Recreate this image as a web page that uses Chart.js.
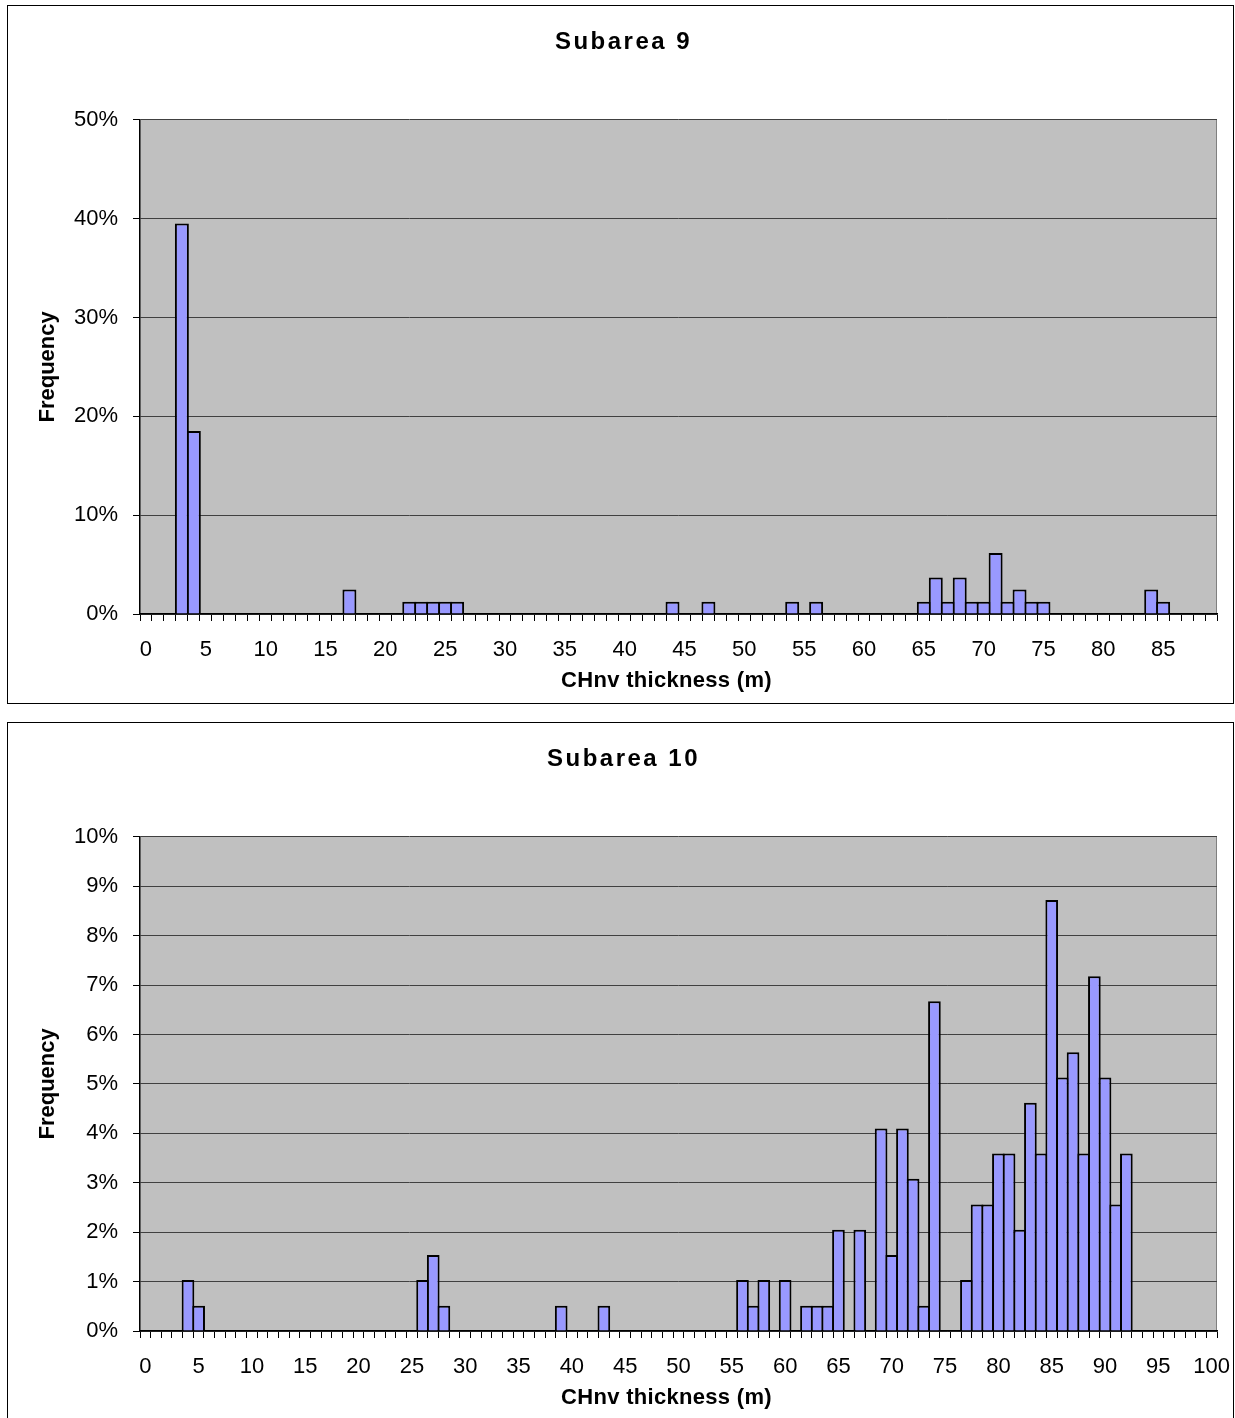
<!DOCTYPE html>
<html>
<head>
<meta charset="utf-8">
<script src="https://cdn.jsdelivr.net/npm/chart.js@4/dist/chart.umd.min.js"></script>
<style>
  html, body { margin: 0; padding: 0; background: #fff; }
  .box { position: absolute; left: 7px; width: 1225px; height: 697px; border: 1px solid #000; background: #fff; }
  #box9 { top: 5px; }
  #box10 { top: 722px; }
  canvas { display: block; }
</style>
</head>
<body>
<div class="box" id="box9"><canvas id="chart9" width="1225" height="697"></canvas></div>
<div class="box" id="box10"><canvas id="chart10" width="1225" height="697"></canvas></div>
<script>
// CHnv thickness classes (m)
const thickness9 = [
  0, 1, 2, 3, 4, 5, 6, 7, 8, 9,
  10, 11, 12, 13, 14, 15, 16, 17, 18, 19,
  20, 21, 22, 23, 24, 25, 26, 27, 28, 29,
  30, 31, 32, 33, 34, 35, 36, 37, 38, 39,
  40, 41, 42, 43, 44, 45, 46, 47, 48, 49,
  50, 51, 52, 53, 54, 55, 56, 57, 58, 59,
  60, 61, 62, 63, 64, 65, 66, 67, 68, 69,
  70, 71, 72, 73, 74, 75, 76, 77, 78, 79,
  80, 81, 82, 83, 84, 85, 86, 87, 88, 89
];
const thickness10 = [
  0, 1, 2, 3, 4, 5, 6, 7, 8, 9,
  10, 11, 12, 13, 14, 15, 16, 17, 18, 19,
  20, 21, 22, 23, 24, 25, 26, 27, 28, 29,
  30, 31, 32, 33, 34, 35, 36, 37, 38, 39,
  40, 41, 42, 43, 44, 45, 46, 47, 48, 49,
  50, 51, 52, 53, 54, 55, 56, 57, 58, 59,
  60, 61, 62, 63, 64, 65, 66, 67, 68, 69,
  70, 71, 72, 73, 74, 75, 76, 77, 78, 79,
  80, 81, 82, 83, 84, 85, 86, 87, 88, 89,
  90, 91, 92, 93, 94, 95, 96, 97, 98, 99,
  100
];

// Frequency (%) per thickness class
const frequency9 = [
  0, 0, 0, 39.51, 18.52, 0, 0, 0, 0, 0,
  0, 0, 0, 0, 0, 0, 0, 2.47, 0, 0,
  0, 0, 1.23, 1.23, 1.23, 1.23, 1.23, 0, 0, 0,
  0, 0, 0, 0, 0, 0, 0, 0, 0, 0,
  0, 0, 0, 0, 1.23, 0, 0, 1.23, 0, 0,
  0, 0, 0, 0, 1.23, 0, 1.23, 0, 0, 0,
  0, 0, 0, 0, 0, 1.23, 3.70, 1.23, 3.70, 1.23,
  1.23, 6.17, 1.23, 2.47, 1.23, 1.23, 0, 0, 0, 0,
  0, 0, 0, 0, 2.47, 1.23, 0, 0, 0, 0
];
const frequency10 = [
  0, 0, 0, 0, 1.03, 0.51, 0, 0, 0, 0,
  0, 0, 0, 0, 0, 0, 0, 0, 0, 0,
  0, 0, 0, 0, 0, 0, 1.03, 1.54, 0.51, 0,
  0, 0, 0, 0, 0, 0, 0, 0, 0, 0.51,
  0, 0, 0, 0.51, 0, 0, 0, 0, 0, 0,
  0, 0, 0, 0, 0, 0, 1.03, 0.51, 1.03, 0,
  1.03, 0, 0.51, 0.51, 0.51, 2.05, 0, 2.05, 0, 4.10,
  1.54, 4.10, 3.08, 0.51, 6.67, 0, 0, 1.03, 2.56, 2.56,
  3.59, 3.59, 2.05, 4.62, 3.59, 8.72, 5.13, 5.64, 3.59, 7.18,
  5.13, 2.56, 3.59, 0, 0, 0, 0, 0, 0, 0,
  0
];

// Labelled x positions and y-axis ranges
const xLabels9 = [0, 5, 10, 15, 20, 25, 30, 35, 40, 45, 50, 55, 60, 65, 70, 75, 80, 85];
const xLabels10 = [0, 5, 10, 15, 20, 25, 30, 35, 40, 45, 50, 55, 60, 65, 70, 75, 80, 85, 90, 95, 100];
const yTicks9 = [0, 10, 20, 30, 40, 50];
const yTicks10 = [0, 1, 2, 3, 4, 5, 6, 7, 8, 9, 10];

const FONT = "'Liberation Sans', Arial, Helvetica, sans-serif";
const PLOT_WIDTH = 1077;   // px between the y axis and the right frame
const BAR_EDGE = 2;        // outline width shared by neighbouring bars

// Grey plot background and its right-hand frame line
const plotFrame = {
  id: 'plotFrame',
  beforeDraw(chart) {
    const { ctx, chartArea: a } = chart;
    ctx.save();
    ctx.fillStyle = '#C0C0C0';
    ctx.fillRect(a.left, a.top, a.right - a.left, a.bottom - a.top);
    ctx.strokeStyle = '#808080';
    ctx.lineWidth = 1;
    ctx.beginPath();
    ctx.moveTo(a.right - 0.5, a.top);
    ctx.lineTo(a.right - 0.5, a.bottom);
    ctx.stroke();
    ctx.restore();
  }
};

function makeChart(id, title, cats, values, labelled, yTicks) {
  // widen each bar by one outline so neighbouring outlines overlap into one line
  const slot = PLOT_WIDTH / cats.length;
  const widen = (slot + BAR_EDGE) / slot;

  const chart = new Chart(document.getElementById(id), {
    type: 'bar',
    data: {
      labels: cats.map(String),
      datasets: [{
        data: values,
        backgroundColor: '#9999FF',
        borderColor: '#000000',
        borderWidth: BAR_EDGE,
        borderSkipped: 'start',
        barPercentage: 1,
        categoryPercentage: widen
      }]
    },
    options: {
      responsive: false,
      animation: false,
      devicePixelRatio: 1,
      events: [],
      layout: { padding: { left: 0, right: 16, top: 0, bottom: 0 } },
      plugins: {
        legend: { display: false },
        tooltip: { enabled: false },
        title: {
          display: true,
          text: title,
          color: '#000',
          font: { family: FONT, size: 24, weight: 'bold' },
          padding: { top: 22, bottom: 63 }
        }
      },
      scales: {
        x: {
          type: 'category',
          offset: true,
          afterFit(scale) {
            scale.height = 89;
            scale.paddingLeft = 0;
            scale.paddingRight = 0;
          },
          border: { display: true, color: '#000', width: 1.5 },
          grid: {
            offset: true,
            drawOnChartArea: false,
            drawTicks: true,
            tickLength: 7,
            tickColor: '#000',
            tickWidth: 1
          },
          ticks: {
            autoSkip: false,
            maxRotation: 0,
            minRotation: 0,
            padding: 16,
            color: '#000',
            font: { family: FONT, size: 22 },
            callback(value) {
              const v = Number(this.getLabelForValue(value));
              return labelled.includes(v) ? String(v) : '';
            }
          },
          title: {
            display: true,
            text: 'CHnv thickness (m)',
            color: '#000',
            font: { family: FONT, size: 22, weight: 'bold' },
            padding: { top: 0, bottom: 9 }
          }
        },
        y: {
          min: yTicks[0],
          max: yTicks[yTicks.length - 1],
          afterFit(scale) { scale.width = 132; },
          afterBuildTicks(scale) { scale.ticks = yTicks.map(v => ({ value: v })); },
          border: { display: true, color: '#000', width: 1.5 },
          grid: {
            color: '#404040',
            lineWidth: 1,
            drawTicks: true,
            tickLength: 7,
            tickColor: '#000'
          },
          ticks: {
            padding: 15,
            color: '#000',
            font: { family: FONT, size: 22 },
            callback: v => v + '%'
          },
          title: {
            display: true,
            text: 'Frequency',
            color: '#000',
            font: { family: FONT, size: 22, weight: 'bold' },
            padding: { top: 27, bottom: 0 }
          }
        }
      }
    },
    plugins: [plotFrame]
  });

  const ctx = chart.ctx;

  // Spaced lettering for the chart heading
  const block = chart.titleBlock;
  if (block) {
    const drawHeading = block.draw.bind(block);
    block.draw = function () {
      ctx.save();
      ctx.letterSpacing = '2.5px';
      ctx.translate(11, 0);
      drawHeading();
      ctx.restore();
    };
  }

  // x-axis caption sits a little left of the plot centre
  const xs = chart.scales.x;
  const drawCaption = xs.drawTitle.bind(xs);
  xs.drawTitle = function () {
    ctx.save();
    ctx.letterSpacing = '0.3px';
    ctx.translate(-12, 0);
    drawCaption();
    ctx.restore();
  };

  chart.draw();
  return chart;
}

makeChart('chart9', 'Subarea 9', thickness9, frequency9, xLabels9, yTicks9);
makeChart('chart10', 'Subarea 10', thickness10, frequency10, xLabels10, yTicks10);
</script>
</body>
</html>
